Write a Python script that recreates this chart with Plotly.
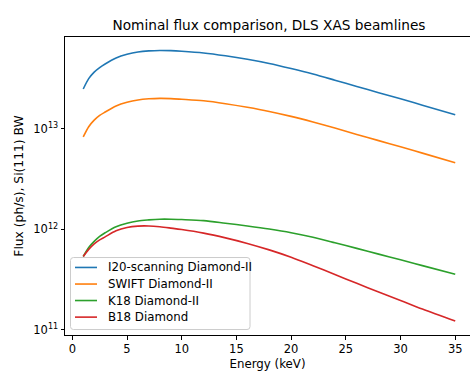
import plotly.graph_objects as go

# Energy (keV)
energy = [1, 1.5, 2, 2.5, 3, 4, 5, 6, 7, 8, 9, 10, 12, 14, 16, 18, 20, 22, 24, 26, 28, 30, 32, 35]

# Flux (ph/s), Si(111) BW
i20_flux = [2.49e13, 3.16e13, 3.67e13, 4.07e13, 4.42e13, 5.07e13, 5.52e13, 5.82e13, 5.97e13, 6.03e13,
            6.00e13, 5.92e13, 5.69e13, 5.33e13, 4.92e13, 4.47e13, 3.98e13, 3.51e13, 3.05e13, 2.64e13,
            2.29e13, 1.99e13, 1.72e13, 1.38e13]
swift_flux = [8.3e12, 1.05e13, 1.22e13, 1.36e13, 1.47e13, 1.69e13, 1.84e13, 1.94e13, 1.99e13, 2.01e13,
              2.00e13, 1.97e13, 1.90e13, 1.78e13, 1.64e13, 1.49e13, 1.33e13, 1.17e13, 1.02e13, 8.8e12,
              7.63e12, 6.63e12, 5.73e12, 4.6e12]
k18_flux = [5.36e11, 6.6e11, 7.59e11, 8.51e11, 9.23e11, 1.06e12, 1.15e12, 1.21e12, 1.24e12, 1.26e12,
            1.26e12, 1.25e12, 1.22e12, 1.15e12, 1.08e12, 1.007e12, 9.25e11, 8.32e11, 7.35e11, 6.46e11,
            5.66e11, 4.97e11, 4.35e11, 3.57e11]
b18_flux = [5.36e11, 6.31e11, 7.16e11, 7.85e11, 8.41e11, 9.66e11, 1.042e12, 1.076e12, 1.079e12, 1.059e12,
            1.028e12, 9.95e11, 9.16e11, 8.22e11, 7.24e11, 6.24e11, 5.27e11, 4.34e11, 3.55e11, 2.90e11,
            2.38e11, 1.96e11, 1.61e11, 1.22e11]

series_names = ["I20-scanning Diamond-II", "SWIFT Diamond-II", "K18 Diamond-II", "B18 Diamond"]
series_values = [i20_flux, swift_flux, k18_flux, b18_flux]
colors = ["#1f77b4", "#ff7f0e", "#2ca02c", "#d62728"]

x_ticks = [0, 5, 10, 15, 20, 25, 30, 35]
y_ticks = [1e11, 1e12, 1e13]
y_tick_text = ["10<sup>11</sup>", "10<sup>12</sup>", "10<sup>13</sup>"]
y_minor = [k * 10.0 ** e for e in (10, 11, 12, 13) for k in range(2, 10)]

FONT = "DejaVu Sans"
W, H = 470, 371
L, R, T, B = 65, 0, 37, 34
PW, PH = W - L - R, H - T - B
Y_RANGE = [10.948, 13.914]


def px(x):
    return (x - L) / PW


def py(y):
    return (H - B - y) / PH


fig = go.Figure()
for name, vals, c in zip(series_names, series_values, colors):
    fig.add_trace(go.Scatter(x=energy, y=vals, mode="lines", name=name, showlegend=False,
                             line=dict(color=c, width=1.6, shape="spline", smoothing=0.9)))

# legend box (matplotlib style, rounded corners)
x0, x1, y0, y1, r = 70.5, 250, 259, 331.5, 3
path = (f"M {px(x0 + r)} {py(y0)} L {px(x1 - r)} {py(y0)} "
        f"Q {px(x1)} {py(y0)} {px(x1)} {py(y0 + r)} L {px(x1)} {py(y1 - r)} "
        f"Q {px(x1)} {py(y1)} {px(x1 - r)} {py(y1)} L {px(x0 + r)} {py(y1)} "
        f"Q {px(x0)} {py(y1)} {px(x0)} {py(y1 - r)} L {px(x0)} {py(y0 + r)} "
        f"Q {px(x0)} {py(y0)} {px(x0 + r)} {py(y0)} Z")
shapes = [dict(type="path", xref="paper", yref="paper", path=path,
               fillcolor="rgba(255,255,255,0.8)", line=dict(color="#cccccc", width=1), layer="above")]
annotations = []
item_y = [269, 285.7, 302.3, 319]
for name, c, yy in zip(series_names, colors, item_y):
    shapes.append(dict(type="line", xref="paper", yref="paper", x0=px(75), x1=px(97),
                       y0=py(yy), y1=py(yy), line=dict(color=c, width=1.6), layer="above"))
    annotations.append(dict(text=name, xref="paper", yref="paper", x=px(106), y=py(yy),
                            xanchor="left", yanchor="middle", showarrow=False,
                            font=dict(family=FONT, size=11.8, color="black")))

fig.update_layout(
    width=W, height=H,
    margin=dict(l=L, r=R, t=T, b=B),
    paper_bgcolor="white", plot_bgcolor="white",
    font=dict(family=FONT, size=11, color="black"),
    title=dict(text="Nominal flux comparison, DLS XAS beamlines", x=269 / W, xanchor="center",
               y=1 - 25 / H, yanchor="middle", font=dict(family=FONT, size=13.7, color="black")),
    showlegend=False,
    shapes=shapes,
    annotations=annotations,
    # overlay axis carrying the minor log ticks
    yaxis2=dict(type="log", range=Y_RANGE, overlaying="y", side="left", anchor="x",
                tickvals=y_minor, ticks="outside", ticklen=2.2, tickwidth=0.8, tickcolor="black",
                showticklabels=False, showgrid=False, zeroline=False, showline=False,
                fixedrange=True),
)

fig.update_xaxes(
    range=[-0.667, 36.35], tickvals=x_ticks, ticks="outside", ticklen=3.5, tickwidth=1,
    tickcolor="black", showline=True, linecolor="black", linewidth=1, mirror=True,
    showgrid=False, zeroline=False,
    title=dict(text="Energy (keV)", font=dict(family=FONT, size=11.8), standoff=6),
    tickfont=dict(family=FONT, size=11.5),
)
fig.update_layout(yaxis=dict(
    type="log", range=Y_RANGE, tickvals=y_ticks, ticktext=y_tick_text,
    ticks="outside", ticklen=3.5, tickwidth=1, tickcolor="black",
    showline=True, linecolor="black", linewidth=1, mirror=False,
    showgrid=False, zeroline=False,
    title=dict(text="Flux (ph/s), Si(111) BW", font=dict(family=FONT, size=12.3), standoff=7),
    tickfont=dict(family=FONT, size=11.5),
))

fig.write_html("out.html")
